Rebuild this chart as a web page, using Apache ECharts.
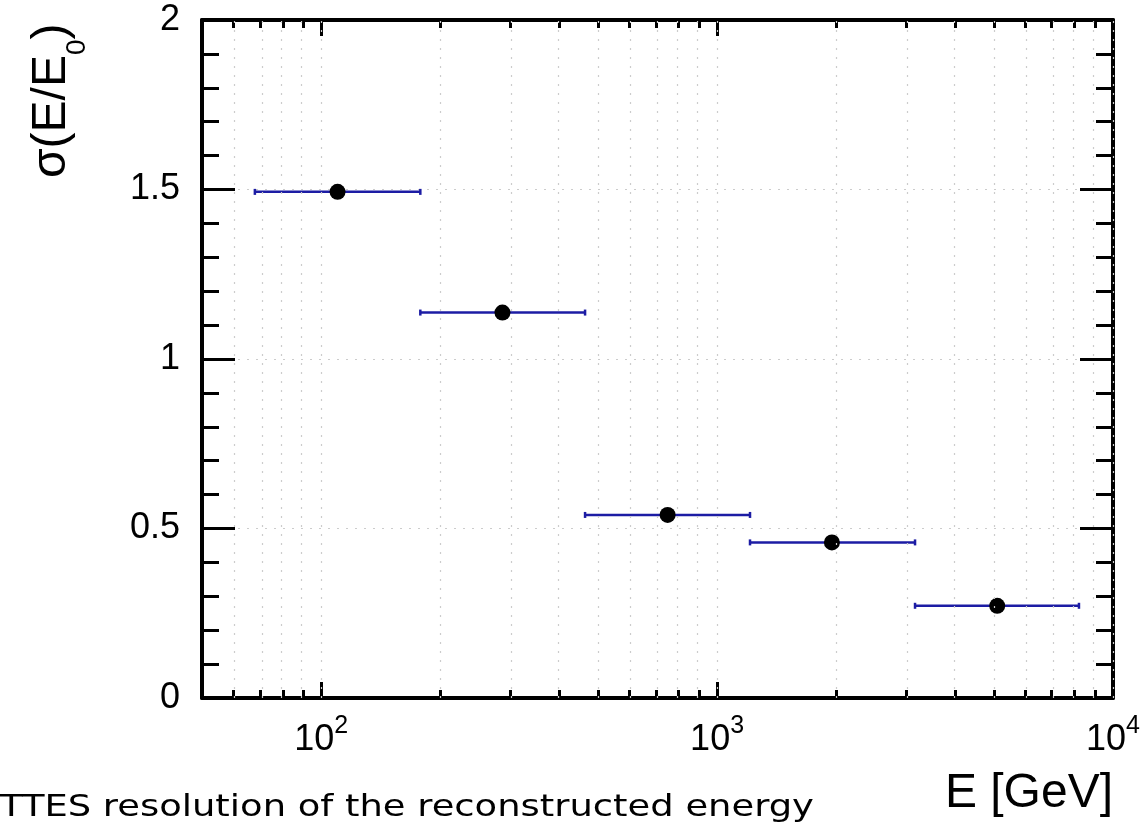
<!DOCTYPE html>
<html>
<head>
<meta charset="utf-8">
<script src="https://cdn.jsdelivr.net/npm/echarts@6/dist/echarts.min.js"></script>
<style>
  html, body { margin: 0; padding: 0; background: #fff; }
  #chart { width: 1148px; height: 822px; }
</style>
</head>
<body>
<div id="chart"></div>
<script>
// energy bins (GeV) and measured resolution
const energies = [110, 287, 750, 1950, 5100];
const binLow = [68, 178, 464, 1211, 3162];
const binHigh = [178, 464, 1211, 3162, 8204];
const sigma = [1.493, 1.137, 0.540, 0.459, 0.272];

// log axis ticks
const majorTicks = [100, 1000, 10000];
const minorTicks = [60, 70, 80, 90, 200, 300, 400, 500, 600, 700, 800, 900,
  2000, 3000, 4000, 5000, 6000, 7000, 8000, 9000];
const xMin = 50, xMax = 10000;

const lg = Math.log10;
const font = 'Liberation Sans, Arial, Helvetica, sans-serif';
const black = '#000';
const barColor = '#1c1ca4';
const gridLine = { color: '#cccccc', width: 1.2, type: [2, 7] };

const chart = echarts.init(document.getElementById('chart'));

function xAxisDef(position, ticks, len, withLine, withLabels) {
  return {
    type: 'value',
    position: position,
    min: lg(xMin),
    max: lg(xMax),
    axisLine: { show: withLine, onZero: false, lineStyle: { color: black, width: 4 } },
    axisTick: {
      show: true, inside: true, length: len,
      customValues: ticks.map(lg),
      lineStyle: { color: black, width: 3 }
    },
    axisLabel: withLabels ? {
      show: true,
      customValues: majorTicks.map(lg),
      margin: 16,
      formatter: v => '{b|10}{s|' + Math.round(v) + '}',
      rich: {
        b: { fontSize: 36, fontFamily: font, color: black },
        s: { fontSize: 25, fontFamily: font, color: black, padding: [0, 0, 27, 0] }
      }
    } : { show: false },
    splitLine: { show: false }
  };
}

function yAxisDef(position, withLabels) {
  return {
    type: 'value',
    position: position,
    min: 0,
    max: 2,
    interval: 0.5,
    axisLine: { show: true, onZero: false, lineStyle: { color: black, width: 4 } },
    axisTick: { show: true, inside: true, length: 33, lineStyle: { color: black, width: 3 } },
    minorTick: { show: true, splitNumber: 5, length: 17, lineStyle: { color: black, width: 3 } },
    axisLabel: withLabels ? { show: true, fontSize: 36, fontFamily: font, color: black, margin: 22 } : { show: false },
    splitLine: withLabels ? { show: true, lineStyle: gridLine } : { show: false },
    minorSplitLine: { show: false }
  };
}

const option = {
  animation: false,
  backgroundColor: '#fff',
  grid: { left: 202, right: 35, top: 20, bottom: 124, containLabel: false, outerBoundsMode: 'none' },
  xAxis: [
    xAxisDef('bottom', majorTicks, 16, true, true),
    xAxisDef('bottom', minorTicks, 8, false, false),
    xAxisDef('top', majorTicks, 16, true, false),
    xAxisDef('top', minorTicks, 8, false, false)
  ],
  yAxis: [yAxisDef('left', true), yAxisDef('right', false)],
  series: [
    {
      // vertical dotted grid at every x tick
      type: 'scatter',
      data: [],
      silent: true,
      z: 1,
      markLine: {
        silent: true,
        symbol: 'none',
        label: { show: false },
        lineStyle: gridLine,
        data: majorTicks.concat(minorTicks).map(v => ({ xAxis: lg(v) }))
      }
    },
    {
      type: 'custom',
      z: 3,
      data: binLow.map((l, i) => [lg(l), lg(binHigh[i]), sigma[i]]),
      encode: { x: [0, 1], y: 2 },
      renderItem: function (params, api) {
        const a = api.coord([api.value(0), api.value(2)]);
        const b = api.coord([api.value(1), api.value(2)]);
        const st = { stroke: barColor, lineWidth: 2.5 };
        return {
          type: 'group',
          children: [
            { type: 'line', shape: { x1: a[0], y1: a[1], x2: b[0], y2: b[1] }, style: st },
            { type: 'line', shape: { x1: a[0], y1: a[1] - 3, x2: a[0], y2: a[1] + 3 }, style: st },
            { type: 'line', shape: { x1: b[0], y1: b[1] - 3, x2: b[0], y2: b[1] + 3 }, style: st }
          ]
        };
      }
    },
    {
      type: 'scatter',
      z: 4,
      symbol: 'circle',
      symbolSize: 16,
      itemStyle: { color: black, opacity: 1 },
      data: energies.map((e, i) => [lg(e), sigma[i]])
    }
  ],
  graphic: [
    {
      type: 'text',
      x: 52,
      y: 178,
      rotation: Math.PI / 2,
      style: {
        text: '{a|σ(E/E}{b|0}{a|)}',
        align: 'left',
        verticalAlign: 'middle',
        rich: {
          a: { fontSize: 48, fontFamily: font, fill: black },
          b: { fontSize: 28, fontFamily: font, fill: black, padding: [50, 0, 0, 0] }
        }
      }
    },
    {
      type: 'text',
      x: 1113,
      y: 818,
      style: {
        text: 'E [GeV]',
        align: 'right',
        verticalAlign: 'bottom',
        font: '48px ' + font,
        fill: black
      }
    },
    {
      type: 'text',
      x: 0,
      y: 823,
      scaleX: 1.19,
      style: {
        text: 'TTES resolution of the reconstructed energy',
        align: 'left',
        verticalAlign: 'bottom',
        font: '31px "DejaVu Sans", sans-serif',
        fill: black
      }
    }
  ]
};

chart.setOption(option);
</script>
</body>
</html>
